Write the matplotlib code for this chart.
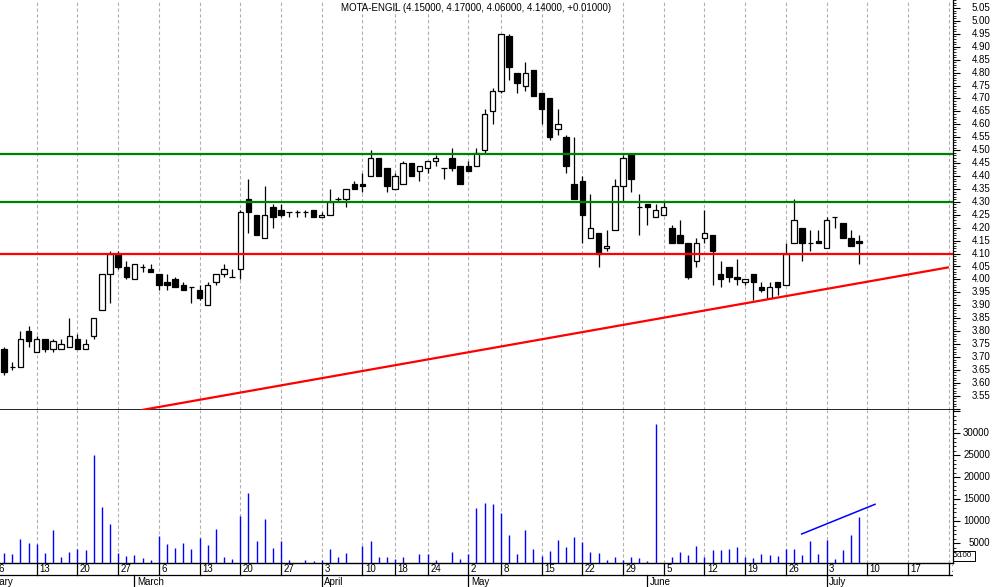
import matplotlib
matplotlib.use('Agg')
import matplotlib.pyplot as plt
import numpy as np
import pandas as pd
from matplotlib.ticker import MultipleLocator
from matplotlib.transforms import blended_transform_factory
from matplotlib.patches import Rectangle

plt.rcParams['font.family'] = ['Liberation Sans', 'DejaVu Sans']

title = "MOTA-ENGIL (4.15000, 4.17000, 4.06000, 4.14000, +0.01000)"
holidays = ['2006-04-14', '2006-04-17', '2006-05-01']
first_date = '2006-02-07'

opens = [3.73, 3.66, 3.66, 3.80, 3.72, 3.77, 3.73, 3.73, 3.74, 3.77,
         3.73, 3.78, 3.88, 4.02, 4.10, 4.05, 4.00, 4.05, 4.04, 4.02,
         3.99, 4.00, 3.98, 3.97, 3.96, 3.90, 3.99, 4.02, 4.01, 4.04,
         4.31, 4.25, 4.16, 4.28, 4.27, 4.26, 4.26, 4.26, 4.27, 4.24,
         4.25, 4.31, 4.31, 4.37, 4.37, 4.40, 4.47, 4.43, 4.35, 4.37,
         4.45, 4.42, 4.43, 4.46, 4.43, 4.47, 4.44, 4.44, 4.44, 4.50,
         4.65, 4.73, 4.94, 4.80, 4.75, 4.81, 4.72, 4.70, 4.58, 4.55,
         4.37, 4.38, 4.16, 4.18, 4.12, 4.19, 4.36, 4.48, 4.28, 4.29,
         4.24, 4.25, 4.20, 4.17, 4.14, 4.07, 4.16, 4.17, 4.02, 4.05,
         4.01, 3.99, 4.02, 3.97, 3.93, 3.99, 3.98, 4.14, 4.20, 4.14,
         4.15, 4.12, 4.24, 4.22, 4.16, 4.15]
highs = [3.74, 3.68, 3.80, 3.82, 3.78, 3.77, 3.77, 3.77, 3.85, 3.79,
         3.77, 3.85, 4.02, 4.11, 4.11, 4.07, 4.06, 4.06, 4.06, 4.02,
         4.02, 4.01, 3.99, 3.97, 3.98, 3.99, 4.02, 4.06, 4.04, 4.27,
         4.39, 4.25, 4.36, 4.29, 4.29, 4.26, 4.27, 4.27, 4.27, 4.26,
         4.35, 4.32, 4.35, 4.38, 4.41, 4.50, 4.47, 4.43, 4.41, 4.46,
         4.45, 4.44, 4.46, 4.48, 4.43, 4.51, 4.44, 4.46, 4.51, 4.66,
         4.74, 4.95, 4.95, 4.80, 4.84, 4.81, 4.72, 4.70, 4.66, 4.56,
         4.55, 4.40, 4.33, 4.18, 4.19, 4.39, 4.48, 4.48, 4.33, 4.29,
         4.29, 4.30, 4.21, 4.23, 4.14, 4.16, 4.27, 4.17, 4.07, 4.05,
         4.08, 4.00, 4.02, 3.99, 3.99, 3.99, 4.14, 4.31, 4.20, 4.19,
         4.19, 4.24, 4.24, 4.22, 4.19, 4.17]
lows = [3.63, 3.65, 3.66, 3.74, 3.72, 3.72, 3.72, 3.73, 3.74, 3.73,
        3.73, 3.77, 3.88, 3.91, 4.04, 4.00, 4.00, 4.03, 4.03, 3.96,
        3.96, 3.97, 3.96, 3.91, 3.92, 3.90, 3.98, 4.01, 4.01, 4.00,
        4.18, 4.17, 4.16, 4.20, 4.24, 4.24, 4.24, 4.24, 4.24, 4.24,
        4.25, 4.30, 4.28, 4.35, 4.34, 4.40, 4.40, 4.34, 4.35, 4.37,
        4.40, 4.38, 4.41, 4.44, 4.39, 4.42, 4.37, 4.42, 4.44, 4.49,
        4.60, 4.72, 4.77, 4.72, 4.73, 4.71, 4.60, 4.54, 4.56, 4.41,
        4.31, 4.14, 4.16, 4.05, 4.11, 4.19, 4.30, 4.34, 4.17, 4.21,
        4.24, 4.25, 4.14, 4.14, 4.00, 4.05, 4.14, 3.98, 3.97, 3.99,
        3.98, 3.98, 3.92, 3.95, 3.93, 3.94, 3.98, 4.14, 4.07, 4.11,
        4.14, 4.12, 4.20, 4.16, 4.13, 4.06]
closes = [3.64, 3.66, 3.77, 3.76, 3.77, 3.73, 3.76, 3.75, 3.78, 3.73,
          3.75, 3.85, 4.02, 4.10, 4.05, 4.01, 4.06, 4.05, 4.03, 3.98,
          3.98, 3.97, 3.96, 3.97, 3.93, 3.98, 4.02, 4.04, 4.01, 4.26,
          4.26, 4.17, 4.25, 4.24, 4.25, 4.26, 4.26, 4.26, 4.24, 4.25,
          4.30, 4.31, 4.35, 4.35, 4.36, 4.47, 4.40, 4.36, 4.40, 4.45,
          4.40, 4.44, 4.46, 4.47, 4.43, 4.43, 4.37, 4.42, 4.49, 4.64,
          4.73, 4.95, 4.82, 4.76, 4.80, 4.71, 4.66, 4.55, 4.60, 4.44,
          4.31, 4.25, 4.20, 4.10, 4.13, 4.36, 4.47, 4.39, 4.28, 4.28,
          4.27, 4.28, 4.14, 4.14, 4.01, 4.14, 4.18, 4.11, 4.00, 4.01,
          4.00, 4.00, 3.99, 3.96, 3.97, 3.97, 4.10, 4.23, 4.14, 4.14,
          4.14, 4.23, 4.24, 4.16, 4.13, 4.14]
volumes = [2730, 2570, 5980, 5070, 4840, 2730, 8020, 1890, 3020, 3780,
           3480, 25070, 13250, 9390, 2730, 2190, 2340, 1660, 1200, 6660,
           4840, 4000, 5140, 3700, 6270, 4610, 8250, 1890, 1430, 11200,
           16430, 5520, 10520, 3930, 5520, 1200, 400, 1200, 980, 1200,
           3700, 1890, 2800, 400, 4390, 5520, 1890, 1890, 1430, 1890,
           400, 2480, 2480, 1200, 400, 3020, 1430, 2480, 13020, 14160,
           13930, 11960, 6890, 2570, 8020, 3700, 2190, 3250, 5820, 4160,
           6430, 5300, 3020, 2800, 1200, 1890, 1200, 1890, 1660, 980,
           32120, 400, 1890, 3020, 2340, 4390, 1890, 3480, 3480, 3700,
           4160, 1890, 1660, 2570, 2340, 2190, 3780, 3700, 2340, 5520,
           2570, 5750, 1430, 3480, 6890, 10980]

resistance_levels = [4.485, 4.30]
support_level = 4.10
trend_x = [17.93, 117.03]
trend_y = [3.495, 4.047]
vol_trend_x = [98.94, 107.95]
vol_trend_y = [7115, 13865]

# ---- trading calendar (index 0 = 2006-02-06) ----
cal = pd.bdate_range('2006-02-01', '2006-07-31')
cal = cal[~cal.isin(pd.to_datetime(holidays))]
base = cal.get_loc(pd.Timestamp('2006-02-06'))
cal_pos = np.arange(len(cal)) - base
start = cal.get_loc(pd.Timestamp(first_date)) - base
x = np.arange(len(opens)) + start

week_starts = []
month_starts = []
for k in range(len(cal)):
    d = cal[k]
    if k == 0 or d.isocalendar()[1] != cal[k-1].isocalendar()[1]:
        week_starts.append((cal_pos[k], d))
    if k == 0 or d.month != cal[k-1].month:
        month_starts.append((cal_pos[k], d))

W, H = 994, 587
fig = plt.figure(figsize=(W/100, H/100), dpi=100)
px_per = 8.143
x0 = 4/px_per
ax_right_px = 953
x1 = (ax_right_px + 4)/px_per

def fy(ytop, ybot):
    return [0, 1 - ybot/H, ax_right_px/W, (ybot - ytop)/H]

ax_p = fig.add_axes(fy(0, 410))
ax_v = fig.add_axes(fy(410, 562.5))
ax_d = fig.add_axes(fy(562.5, 587))

grid_kw = dict(color='#b0b0b0', lw=0.8, ls=(0, (3, 2.2)), zorder=0)

# ---- price panel ----
ax_p.set_xlim(x0, x1)
ax_p.set_ylim(3.4949, 5.0809)
for wx, _ in week_starts:
    ax_p.axvline(wx, **grid_kw)
o = np.array(opens); c = np.array(closes); h = np.array(highs); l = np.array(lows)
up = c >= o
ax_p.vlines(x, l, h, color='black', lw=0.9, zorder=2)
ax_p.bar(x[up], c[up] - o[up], bottom=o[up], width=0.68, color='white',
         edgecolor='black', linewidth=0.9, zorder=3)
ax_p.bar(x[~up], c[~up] - o[~up], bottom=o[~up], width=0.68, color='black',
         edgecolor='black', linewidth=0.9, zorder=3)
for lv in resistance_levels:
    ax_p.axhline(lv, color='#008000', lw=1.6, zorder=4)
ax_p.axhline(support_level, color='#ff0000', lw=1.6, zorder=4)
ax_p.plot(trend_x, trend_y, color='#ff0000', lw=1.6, zorder=4, solid_capstyle='butt')

for s in ['top', 'left']:
    ax_p.spines[s].set_visible(False)
ax_p.spines['right'].set_linewidth(0.9)
ax_p.spines['bottom'].set_linewidth(1.2)
ax_p.set_xticks([])
ax_p.yaxis.tick_right()
ax_p.yaxis.set_major_locator(MultipleLocator(0.05))
ax_p.yaxis.set_minor_locator(MultipleLocator(0.01))
ax_p.tick_params(axis='y', which='major', length=5, width=0.8, labelright=False)
ax_p.tick_params(axis='y', which='minor', length=2.5, width=0.6)
tp = blended_transform_factory(ax_p.transAxes, ax_p.transData)
for v in np.arange(3.55, 5.051, 0.05):
    ax_p.text(972/ax_right_px, v, f"{v:.2f}", transform=tp, ha='left', va='center',
              fontsize=7, clip_on=False)
ax_p.text(476/ax_right_px, 1 - 8/410, title, transform=ax_p.transAxes, ha='center',
          va='center', fontsize=7)

# ---- volume panel ----
ax_v.set_xlim(x0, x1)
ax_v.set_ylim(636, 35295)
for wx, _ in week_starts:
    ax_v.axvline(wx, **grid_kw)
ax_v.vlines(x, 0, volumes, color='#0000ff', lw=1.0, zorder=3)
ax_v.plot(vol_trend_x, vol_trend_y, color='#0000ff', lw=1.1, zorder=4)
ax_v.spines['top'].set_visible(False)
ax_v.spines['left'].set_visible(False)
ax_v.spines['right'].set_linewidth(0.9)
ax_v.spines['bottom'].set_linewidth(1.0)
ax_v.set_xticks([])
ax_v.yaxis.tick_right()
ax_v.yaxis.set_major_locator(MultipleLocator(5000))
ax_v.yaxis.set_minor_locator(MultipleLocator(1000))
ax_v.tick_params(axis='y', which='major', length=5, width=0.8, labelright=False)
ax_v.tick_params(axis='y', which='minor', length=2.5, width=0.6)
tv = blended_transform_factory(ax_v.transAxes, ax_v.transData)
for v in range(5000, 30001, 5000):
    ax_v.text(990/ax_right_px, v, f"{v}", transform=tv, ha='right', va='center',
              fontsize=7, clip_on=False)
fig.add_artist(Rectangle((953/W, 1 - 560.5/H), 22/W, 10/H, transform=fig.transFigure,
                         fill=False, edgecolor='black', lw=0.7))
fig.text(954.5/W, 1 - 555.5/H, "x100", fontsize=5.8, ha='left', va='center')

# ---- date axis ----
ax_d.set_xlim(x0, x1)
ax_d.set_ylim(0, 1)
ax_d.axis('off')
mid = 12/24.5
ax_d.axhline(mid, color='black', lw=0.9)
for wx, d in week_starts:
    ax_d.plot([wx, wx], [mid, 1], color='black', lw=0.9)
    ax_d.text(wx + 2.5/px_per, 0.745, str(d.day), fontsize=7, ha='left', va='center',
              clip_on=True)
for mx, d in month_starts:
    ax_d.plot([mx, mx], [0, mid], color='black', lw=0.9)
    ax_d.text(mx + 2.5/px_per, 0.22, d.strftime('%B'), fontsize=7, ha='left', va='center',
              clip_on=True)

fig.savefig('out.png', dpi=100)
